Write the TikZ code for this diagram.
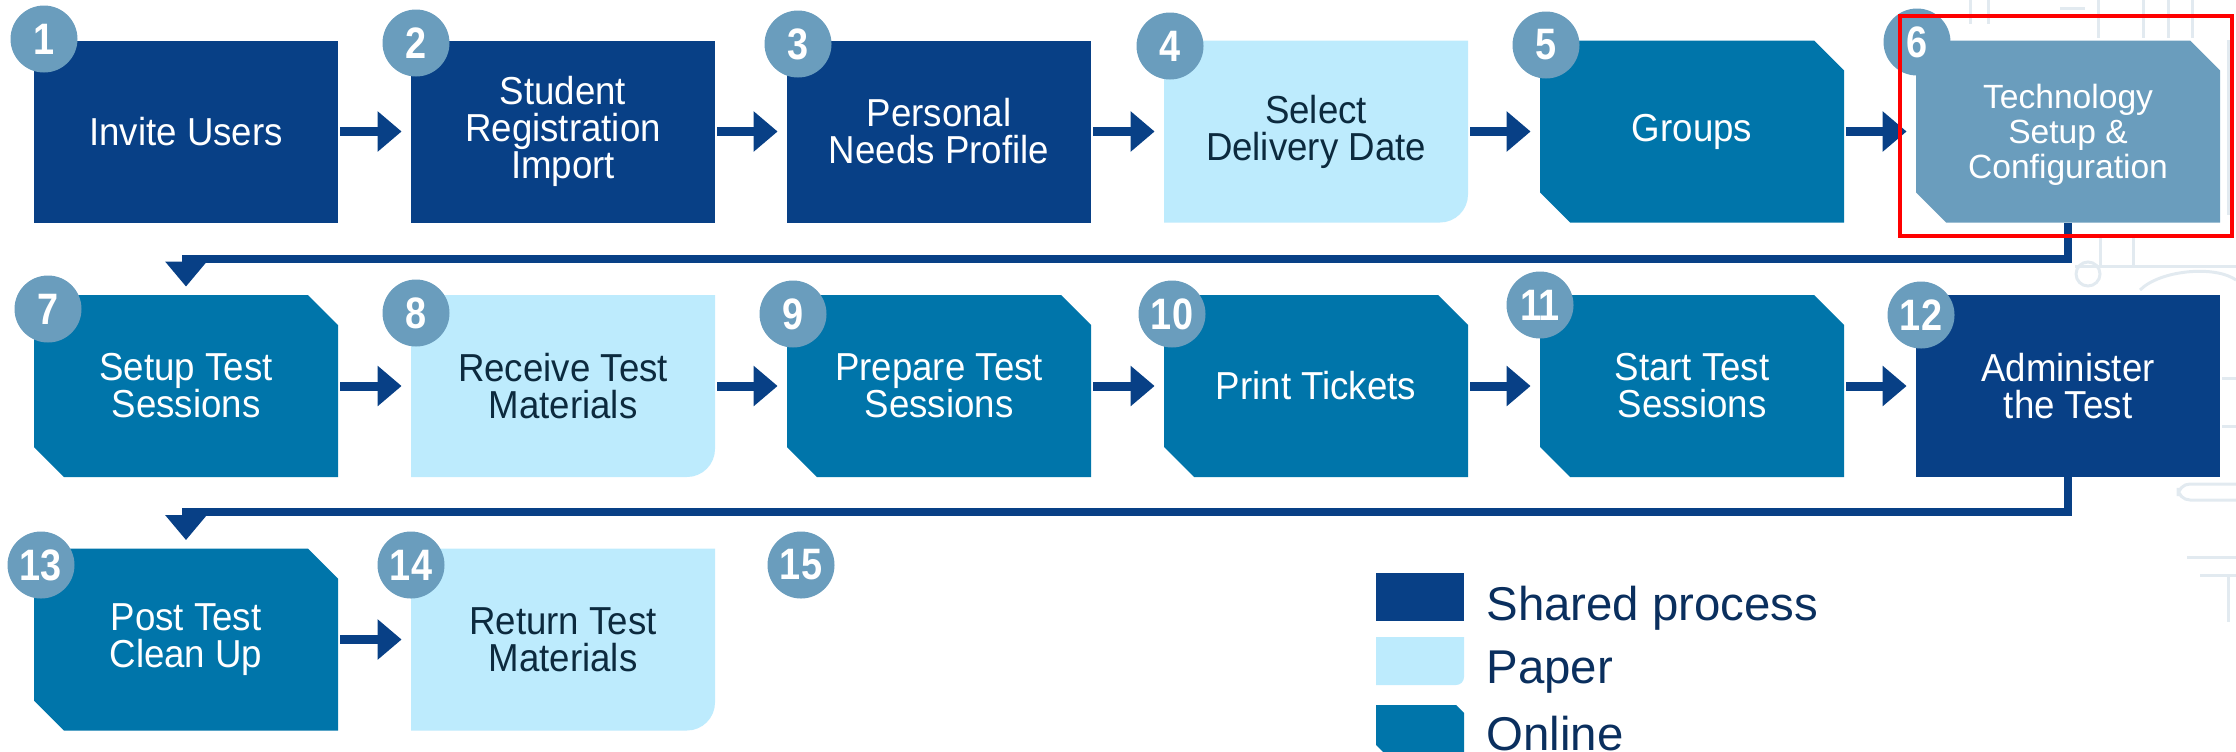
\documentclass[tikz,border=0pt]{standalone}
\usepackage{fontspec}
\setmainfont{Liberation Sans}
\newfontfamily\boxfont[FakeStretch=0.94]{Liberation Sans}
\newfontfamily\numfont[FakeStretch=0.86]{Liberation Sans}
\usetikzlibrary{arrows.meta}

\definecolor{shared}{RGB}{8,64,134}
\definecolor{online}{RGB}{0,117,170}
\definecolor{paper}{RGB}{189,235,253}
\definecolor{badge}{RGB}{106,157,189}
\definecolor{ink}{RGB}{12,42,62}
\definecolor{legendink}{RGB}{10,47,94}
\definecolor{flowblue}{RGB}{8,64,134}
\definecolor{faint}{RGB}{226,234,240}

\tikzset{
  box/.style={rectangle, minimum width=152pt, minimum height=91pt, inner sep=0pt,
    align=center, text=white, font=\boxfont\fontsize{19.5}{18.5}\selectfont},
  % rectangle with the north-east and south-west corners cut off
  chamfer/.style 2 args={fill=white, path picture={
    \fill[#1] (path picture bounding box.north west)
      -- ([xshift=-#2]path picture bounding box.north east)
      -- ([yshift=-#2]path picture bounding box.north east)
      -- (path picture bounding box.south east)
      -- ([xshift=#2]path picture bounding box.south west)
      -- ([yshift=#2]path picture bounding box.south west) -- cycle;}},
  % rectangle with only the south-east corner rounded
  roundcorner/.style 2 args={fill=white, path picture={
    \fill[#1] (path picture bounding box.north west)
      -- (path picture bounding box.north east)
      -- ([yshift=#2]path picture bounding box.south east)
      .. controls ([yshift=0.45*#2]path picture bounding box.south east)
         and ([xshift=-0.45*#2]path picture bounding box.south east)
      .. ([xshift=-#2]path picture bounding box.south east)
      -- (path picture bounding box.south west) -- cycle;}},
  sharedbox/.style={box, fill=shared},
  onlinebox/.style={box, chamfer={online}{15pt}},
  paperbox/.style={box, roundcorner={paper}{14pt}, text=ink},
  techbox/.style={box, chamfer={badge}{15pt},
    font=\fontsize{16.8}{17.5}\selectfont, text depth=0pt},
  numdisc/.style={circle, fill=badge, minimum size=33.5pt, inner sep=0pt, text=white,
    font=\numfont\fontsize{22}{22}\selectfont\bfseries},
  flow/.style={draw=flowblue, line width=4.5pt, -{Triangle[length=12pt,width=19.5pt]},
    shorten <=1pt, shorten >=4.5pt},
  conn/.style={draw=flowblue, line width=4pt, -{Triangle[length=12.5pt,width=20pt]},
    shorten >=4pt},
  legsq/.style={rectangle, minimum width=44pt, minimum height=24pt, inner sep=0pt},
  legtext/.style={anchor=base west, inner sep=0pt, text=legendink,
    font=\fontsize{23.7}{24}\selectfont},
  focus/.style={draw=red, line width=2pt, minimum width=166pt, minimum height=110.25pt,
    inner sep=0pt},
  deco/.style={draw=faint, line width=1.5pt}
}

\begin{document}
\begin{tikzpicture}[x=0.5pt,y=-0.5pt]
  \useasboundingbox (0,0) rectangle (2236,751);

  % pale line art behind the right-hand column
  \draw[deco] (1970,0) -- (1970,24) (1988,0) -- (1988,24);
  \draw[deco] (2098,0) -- (2098,38) (2143,0) -- (2143,38) (2168,0) -- (2168,38)
              (2192,0) -- (2192,38) (2228,40) -- (2228,215);
  \draw[deco] (2060,8) -- (2085,8);
  \draw[deco] (2075,266) -- (2236,266) (2100,234) -- (2100,266) (2133,234) -- (2133,266);
  \draw[deco] (2088,274) circle[radius=12];
  \draw[deco] (2140,290) .. controls (2160,270) and (2215,265) .. (2236,280);
  \draw[deco] (2222,378) -- (2236,378) (2222,426) -- (2236,426);
  \draw[deco, rounded corners=6pt] (2236,484) -- (2178,484) -- (2178,500) -- (2236,500);
  \draw[deco] (2187,557) -- (2236,557) (2200,575) -- (2236,575) (2228,575) -- (2228,622);

  % process steps
  \node[sharedbox] (b1)  at (186,131.5)  {Invite Users};
  \node[sharedbox] (b2)  at (563,131.5)  {Student\\Registration\\Import};
  \node[sharedbox] (b3)  at (939,131.5)  {Personal\\Needs Profile};
  \node[paperbox]  (b4)  at (1316,131.5) {Select\\Delivery Date};
  \node[onlinebox] (b5)  at (1692,131.5) {Groups};
  \node[techbox]   (b6)  at (2068,131.5) {Technology\\Setup \&\\Configuration};

  \node[onlinebox] (b7)  at (186,386)  {Setup Test\\Sessions};
  \node[paperbox]  (b8)  at (563,386)  {Receive Test\\Materials};
  \node[onlinebox] (b9)  at (939,386)  {Prepare Test\\Sessions};
  \node[onlinebox] (b10) at (1316,386) {Print Tickets};
  \node[onlinebox] (b11) at (1692,386) {Start Test\\Sessions};
  \node[sharedbox] (b12) at (2068,386) {Administer\\the Test};

  \node[onlinebox] (b13) at (186,639.5) {Post Test\\Clean Up};
  \node[paperbox]  (b14) at (563,639.5) {Return Test\\Materials};

  % step numbers
  \node[numdisc] (n1)  at (44,39)   {1};
  \node[numdisc] (n2)  at (416,43)  {2};
  \node[numdisc] (n3)  at (798,44)  {3};
  \node[numdisc] (n4)  at (1170,46) {4};
  \node[numdisc] (n5)  at (1546,45) {5};
  \node[numdisc] (n6)  at (1917,42) {6};
  \node[numdisc] (n7)  at (48,309)   {7};
  \node[numdisc] (n8)  at (416,313)  {8};
  \node[numdisc] (n9)  at (793,314)  {9};
  \node[numdisc] (n10) at (1172,314) {10};
  \node[numdisc] (n11) at (1540,305) {11};
  \node[numdisc] (n12) at (1921,315) {12};
  \node[numdisc] (n13) at (41,565)  {13};
  \node[numdisc] (n14) at (411,565) {14};
  \node[numdisc] (n15) at (801,565) {15};

  % flow within each row
  \draw[flow] (b1) -- (b2);
  \draw[flow] (b2) -- (b3);
  \draw[flow] (b3) -- (b4);
  \draw[flow] (b4) -- (b5);
  \draw[flow] (b5) -- (b6);
  \draw[flow] (b7) -- (b8);
  \draw[flow] (b8) -- (b9);
  \draw[flow] (b9) -- (b10);
  \draw[flow] (b10) -- (b11);
  \draw[flow] (b11) -- (b12);
  \draw[flow] (b13) -- (b14);

  % wrap from the end of one row to the start of the next
  \draw[conn] (b6.south) -- ++(0,36) -| (b7.north);
  \draw[conn] (b12.south) -- ++(0,35) -| (b13.north);

  % legend
  \node[legsq, fill=shared] (k1) at (1420,597) {};
  \node[legsq, roundcorner={paper}{4pt}] (k2) at (1420,661) {};
  \node[legsq, chamfer={online}{4pt}] (k3) at (1420,729) {};
  \node[legtext] (t1) at (1486,620) {Shared process};
  \node[legtext] (t2) at (1486,683) {Paper};
  \node[legtext] (t3) at (1486,750) {Online};

  % highlight frame around step 6
  \node[focus] (hl) at (2066,125.75) {};
\end{tikzpicture}
\end{document}
